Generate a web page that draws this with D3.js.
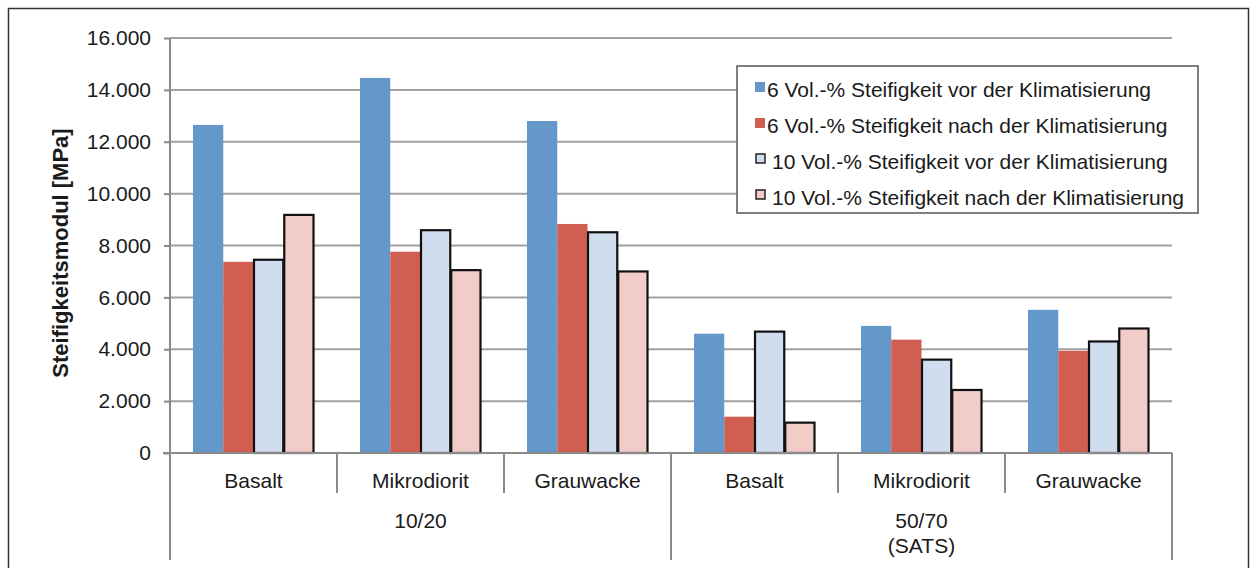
<!DOCTYPE html>
<html><head><meta charset="utf-8">
<script src="https://cdn.jsdelivr.net/npm/d3@7"></script>
<style>body{margin:0;background:#fff}svg{display:block}text{font-family:"Liberation Sans",Arial,sans-serif;fill:#1a1a1a}</style>
</head><body>
<script>
const categories = ["Basalt","Mikrodiorit","Grauwacke","Basalt","Mikrodiorit","Grauwacke"];
const groups = [["10/20"],["50/70","(SATS)"]];
const seriesNames = [
  "6 Vol.-% Steifigkeit vor der Klimatisierung",
  "6 Vol.-% Steifigkeit nach der Klimatisierung",
  "10 Vol.-% Steifigkeit vor der Klimatisierung",
  "10 Vol.-% Steifigkeit nach der Klimatisierung"];
const s6vor   = [12650,14460,12800,4600,4900,5520];
const s6nach  = [7370,7760,8830,1400,4370,3940];
const s10vor  = [7450,8590,8510,4680,3600,4300];
const s10nach = [9180,7050,7000,1170,2430,4800];
const yTicks = [0,2000,4000,6000,8000,10000,12000,14000,16000];
const colors = ["#6498ca","#d15f51","#d0ddee","#f1ccc9"];
const strokes = ["none","none","#111","#111"];

const W=1255,H=568;
const svg=d3.select("body").append("svg").attr("width",W).attr("height",H);
svg.append("rect").attr("x",8.5).attr("y",8.5).attr("width",1240).attr("height",H).attr("fill","none").attr("stroke","#333").attr("stroke-width",1.5);

const x0=d3.scaleBand().domain(d3.range(categories.length)).range([170,1172]).paddingInner(0).paddingOuter(0);
const x1=d3.scaleBand().domain(d3.range(4)).range([0,x0.bandwidth()]).paddingInner(0).paddingOuter(0.76);
const y=d3.scaleLinear().domain([0,16000]).range([453,38]);

// grid
svg.append("g").selectAll("line").data(yTicks.filter(d=>d>0)).join("line")
  .attr("x1",170).attr("x2",1172).attr("y1",d=>y(d)).attr("y2",d=>y(d))
  .attr("stroke","#a0a0a0").attr("stroke-width",2);

// y axis
const fmt=d=>d===0?"0":d3.format(",")(d).replace(/,/g,".");
const ya=svg.append("g").attr("transform","translate(170,0)")
  .call(d3.axisLeft(y).tickValues(yTicks).tickFormat(fmt).tickSize(6).tickPadding(13));
ya.select(".domain").remove();
ya.selectAll(".tick line").attr("stroke","#8a8a8a").attr("stroke-width",2);
ya.selectAll(".tick text").attr("font-size",21).attr("font-family","Liberation Sans, Arial, sans-serif").attr("fill","#1a1a1a");
svg.append("line").attr("x1",170).attr("x2",170).attr("y1",38).attr("y2",560).attr("stroke","#8a8a8a").attr("stroke-width",2);

// bars
const series=[s6vor,s6nach,s10vor,s10nach];
series.forEach((vals,si)=>{
  svg.append("g").selectAll("rect").data(vals).join("rect")
    .attr("x",(d,i)=>x0(i)+x1(si)+(si>=2?0.5:0))
    .attr("y",d=>y(d))
    .attr("width",x1.bandwidth()-(si>=2?1:0))
    .attr("height",d=>y(0)-y(d))
    .attr("fill",colors[si])
    .attr("stroke",strokes[si]).attr("stroke-width",2.2);
});

// bottom axis line
svg.append("line").attr("x1",163).attr("x2",1172).attr("y1",y(0)).attr("y2",y(0)).attr("stroke","#8a8a8a").attr("stroke-width",2);
// category separators
const seps=d3.range(categories.length+1);
svg.append("g").selectAll("line").data(seps).join("line")
  .attr("x1",d=>d===categories.length?1172:x0(d)).attr("x2",d=>d===categories.length?1172:x0(d))
  .attr("y1",y(0)).attr("y2",d=>(d%3===0)?560:493)
  .attr("stroke","#8a8a8a").attr("stroke-width",2);
svg.append("g").selectAll("text").data(categories).join("text")
  .attr("x",(d,i)=>x0(i)+x0.bandwidth()/2).attr("y",488).attr("text-anchor","middle").attr("font-size",21).text(d=>d);
groups.forEach((g,gi)=>{
  const cx=(x0(gi*3)+x0(gi*3+2)+x0.bandwidth())/2;
  g.forEach((t,li)=>svg.append("text").attr("x",cx).attr("y",528+li*25).attr("text-anchor","middle").attr("font-size",21).text(t));
});

// y title
svg.append("text").attr("transform","translate(68,253) rotate(-90)").attr("text-anchor","middle")
  .attr("font-size",22).attr("font-weight","bold").text("Steifigkeitsmodul [MPa]");

// legend
const lg=svg.append("g");
lg.append("rect").attr("x",737).attr("y",66).attr("width",461).attr("height",147).attr("fill","#fff").attr("stroke","#555").attr("stroke-width",1.5);
seriesNames.forEach((n,i)=>{
  const yy=97+i*36;
  const big=i>=2;
  lg.append("rect").attr("x",big?756:755).attr("y",yy-15).attr("width",big?9:10).attr("height",big?9:10)
    .attr("fill",colors[i]).attr("stroke",big?"#222":"none").attr("stroke-width",1.5);
  lg.append("text").attr("x",big?772:767).attr("y",yy).attr("font-size",21).text(n);
});
</script>
</body></html>
